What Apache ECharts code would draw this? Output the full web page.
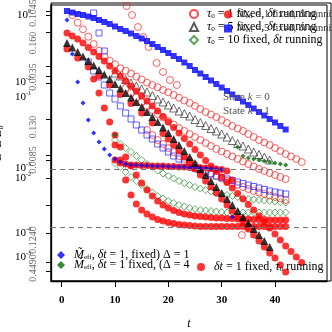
<!DOCTYPE html>
<html><head><meta charset="utf-8">
<script src="https://cdn.jsdelivr.net/npm/echarts@6/dist/echarts.min.js"></script>
<style>html,body{margin:0;padding:0;background:#fff}#c{width:332px;height:332px}</style>
</head><body><div id="c"></div>
<script>
// ---- data: [t, log10 E] ----
const xTicks = [0, 10, 20, 30, 40];
const yTickVals = [-0.067, -0.10, -0.277, -0.617, -0.71, -0.783, -1.14, -1.50, -1.55, -1.733, -2.007, -2.283, -2.57, -2.66];
const yPowerVals = [-0.07, -0.10, -0.77, -0.92, -1.63, -1.73, -2.28, -2.52];
const yPowerExp = ['-1', '0', '-2', '-1', '-3', '-2', '-4', '-3'];
const yRotVals = [-0.08, -0.38, -0.72, -1.22, -1.55, -2.35, -2.63];
const yRotTexts = ['0.1045', '0.160', '0.0035', '0.130', '0.0085', '0.1240', '0.4490'];

const stateK0 = [[1,-0.06],[2,-0.075],[3,-0.09],[4,-0.10],[5,-0.115],[6,-0.13],[7,-0.15],[8,-0.17],[9,-0.19],[10,-0.215],[11,-0.24],[12,-0.26],[13,-0.285],[14,-0.31],[15,-0.335],[16,-0.36],[17,-0.39],[18,-0.42],[19,-0.45],[20,-0.48],[21,-0.51],[22,-0.54],[23,-0.575],[24,-0.61],[25,-0.65],[26,-0.685],[27,-0.72],[28,-0.755],[29,-0.79],[30,-0.825],[31,-0.86],[32,-0.895],[33,-0.93],[34,-0.965],[35,-1.00],[36,-1.035],[37,-1.07],[38,-1.105],[39,-1.14],[40,-1.175],[41,-1.21],[42,-1.245]];
const stateK1 = [[1,-0.38],[2,-0.425],[3,-0.47],[4,-0.515],[5,-0.56],[6,-0.605],[7,-0.65],[8,-0.695],[9,-0.74],[10,-0.79],[11,-0.835],[12,-0.88],[13,-0.925],[14,-0.97],[15,-1.02],[16,-1.07],[17,-1.12],[18,-1.17],[19,-1.225],[20,-1.28],[21,-1.34],[22,-1.40],[23,-1.46],[24,-1.52],[25,-1.58],[26,-1.64],[27,-1.70],[28,-1.76],[29,-1.82],[30,-1.88],[31,-1.94],[32,-2.00],[33,-2.06],[34,-2.12],[35,-2.18],[36,-2.24],[37,-2.30],[38,-2.36],[39,-2.42]];
const tau5Open = [[10,-0.68],[11,-0.71],[12,-0.745],[13,-0.78],[14,-0.81],[15,-0.84],[16,-0.87],[17,-0.905],[18,-0.94],[19,-0.97],[20,-1.00],[21,-1.03],[22,-1.06],[23,-1.085],[24,-1.11],[25,-1.145],[26,-1.175],[27,-1.205],[28,-1.235],[29,-1.26],[30,-1.29],[31,-1.32],[32,-1.355],[33,-1.385],[34,-1.41],[35,-1.44],[36,-1.47],[37,-1.495],[38,-1.52],[39,-1.55]];
const blueOpenSteep = [[6,-0.08],[7,-0.28],[8,-0.46]];
const blueOpenRow = [[5,-0.57],[6,-0.66],[7,-0.72],[8,-0.80],[9,-0.88],[10,-0.94],[11,-1.01],[12,-1.08],[13,-1.14],[14,-1.20],[15,-1.25],[16,-1.30],[17,-1.34],[18,-1.39],[19,-1.43],[20,-1.47],[21,-1.51],[22,-1.54],[23,-1.57],[24,-1.60],[25,-1.63],[26,-1.65],[27,-1.67],[28,-1.69],[29,-1.71],[30,-1.725],[31,-1.74],[32,-1.755],[33,-1.77],[34,-1.785],[35,-1.80],[36,-1.815],[37,-1.83],[38,-1.845],[39,-1.86],[40,-1.87],[41,-1.88],[42,-1.89]];
const tau1Steep = [[12.2,-0.01],[13.2,-0.10],[14.3,-0.22],[15.3,-0.32],[16.3,-0.42],[17.8,-0.58],[19,-0.67],[20.3,-0.75],[21.6,-0.80]];
const tau1RowA = [[2,-0.10],[3,-0.177],[4,-0.243],[5,-0.317],[6,-0.39],[7,-0.457],[8,-0.517],[9,-0.557],[10,-0.593],[11,-0.633],[12,-0.657],[13,-0.685],[14,-0.717],[15,-0.745],[16,-0.777],[17,-0.80],[18,-0.823],[19,-0.85],[20,-0.873],[21,-0.90],[22,-0.927],[23,-0.955],[24,-0.98],[25,-1.01],[26,-1.04],[27,-1.07],[28,-1.095],[29,-1.12],[30,-1.15],[31,-1.18],[32,-1.21],[33,-1.235],[34,-1.26],[35,-1.29],[36,-1.32],[37,-1.35],[38,-1.375],[39,-1.40],[40,-1.43],[41,-1.46],[42,-1.49],[43,-1.515],[44,-1.54],[45,-1.57]];
const tau1RowB = [[12,-0.83],[13,-0.88],[14,-0.925],[15,-0.97],[16,-1.01],[17,-1.05],[18,-1.09],[19,-1.125],[20,-1.16],[21,-1.195],[22,-1.23],[23,-1.26],[24,-1.29],[25,-1.32],[26,-1.35],[27,-1.38],[28,-1.41],[29,-1.44],[30,-1.465],[31,-1.49],[32,-1.515],[33,-1.54],[34,-1.565],[35,-1.59],[36,-1.615],[37,-1.64],[38,-1.66],[39,-1.68],[40,-1.70],[41,-1.72],[42,-1.74]];
const tau1RowC = [[16,-1.25],[17,-1.30],[18,-1.35],[19,-1.39],[20,-1.43],[21,-1.47],[22,-1.51],[23,-1.54],[24,-1.57],[25,-1.60],[26,-1.63],[27,-1.66],[28,-1.685],[29,-1.71],[30,-1.735],[31,-1.76],[32,-1.78],[33,-1.80],[34,-1.82],[35,-1.84],[36,-1.86],[37,-1.875],[38,-1.89],[39,-1.905],[40,-1.92],[41,-1.935],[42,-1.95],[33.8,-2.30]];
const tau10RowA = [[10,-1.35],[11,-1.39],[12,-1.43],[13,-1.47],[14,-1.51],[15,-1.55],[16,-1.59],[17,-1.62],[18,-1.655],[19,-1.685],[20,-1.71],[21,-1.735],[22,-1.76],[23,-1.78],[24,-1.80],[25,-1.82],[26,-1.835],[27,-1.85],[28,-1.865],[29,-1.88],[30,-1.89],[31,-1.90],[32,-1.91],[33,-1.92],[34,-1.93],[35,-1.94],[36,-1.945],[37,-1.95],[38,-1.955],[39,-1.96],[40,-1.965],[41,-1.97],[42,-1.975]];
const tau10RowB = [[10,-1.58],[11,-1.62],[12,-1.67],[13,-1.72],[14,-1.76],[15,-1.80],[16,-1.84],[17,-1.875],[18,-1.91],[19,-1.935],[20,-1.96],[21,-1.98],[22,-2.00],[23,-2.015],[24,-2.03],[25,-2.04],[26,-2.05],[27,-2.055],[28,-2.06],[29,-2.065],[30,-2.07],[31,-2.075],[32,-2.075],[33,-2.075],[34,-2.075],[35,-2.075],[36,-2.075],[37,-2.075],[38,-2.075],[39,-2.075],[40,-2.075],[41,-2.075],[42,-2.075]];
const runDiag = [[1,-0.28],[2,-0.31],[3,-0.34],[4,-0.38],[5,-0.425],[6,-0.47],[7,-0.515],[8,-0.56],[9,-0.61],[10,-0.66],[11,-0.71],[12,-0.76],[13,-0.81],[14,-0.86],[15,-0.91],[16,-0.96],[17,-1.01],[18,-1.06],[19,-1.115],[20,-1.17],[21,-1.225],[22,-1.28],[23,-1.335],[24,-1.39],[25,-1.445],[26,-1.50],[27,-1.555],[28,-1.61],[29,-1.665],[30,-1.72],[31,-1.775],[32,-1.83],[33,-1.885],[34,-1.94],[35,-1.995],[36,-2.05],[37,-2.11],[38,-2.17],[39,-2.23],[40,-2.29],[41,-2.35],[42,-2.41],[43,-2.465],[44,-2.52],[45,-2.575]];
const runUnderK1 = [[1,-0.44],[3,-0.53],[5,-0.62],[7,-0.71],[9,-0.80],[11,-0.895],[13,-0.985],[15,-1.08],[17,-1.18],[19,-1.285],[20,-1.34],[21,-1.40],[22,-1.46],[23,-1.52],[24,-1.58],[25,-1.64],[26,-1.70],[27,-1.76],[28,-1.82],[29,-1.88],[30,-1.94],[31,-2.00],[32,-2.06],[33,-2.12],[34,-2.18],[35,-2.24],[36,-2.30],[37,-2.36],[38,-2.42],[39,-2.48],[40,-2.53],[41,-2.60],[42,-2.67]];
const runTau1 = [[6,-0.74],[7,-0.88],[8,-1.03],[9,-1.17],[10,-1.30],[11,-1.42],[12,-1.52],[13,-1.61],[14,-1.70],[15,-1.78],[16,-1.85],[17,-1.91],[18,-1.96],[19,-2.00],[20,-2.03],[21,-2.055],[22,-2.075],[23,-2.09],[24,-2.10],[25,-2.11],[26,-2.115],[27,-2.12],[28,-2.125],[29,-2.13],[30,-2.13],[31,-2.135],[32,-2.135],[33,-2.14],[34,-2.14],[35,-2.14],[36,-2.145],[37,-2.145],[38,-2.145],[39,-2.15],[40,-2.15],[41,-2.15],[42,-2.15]];
const runTau2 = [[10,-1.40],[11,-1.55],[12,-1.75],[13,-1.90],[14,-1.99],[15,-2.05],[16,-2.09],[17,-2.12],[18,-2.145],[19,-2.16],[20,-2.175],[21,-2.185],[22,-2.195],[23,-2.20],[24,-2.205],[25,-2.21],[26,-2.215],[27,-2.215],[28,-2.215],[29,-2.215],[30,-2.215],[31,-2.215],[32,-2.215],[33,-2.215],[34,-2.215],[35,-2.215],[36,-2.215],[37,-2.215],[38,-2.215],[39,-2.215],[40,-2.215],[41,-2.215],[42,-2.215]];
const runMeff = [[10,-1.55],[11,-1.58],[12,-1.59],[13,-1.60],[14,-1.60],[15,-1.605],[16,-1.605],[17,-1.61],[18,-1.61],[19,-1.61],[20,-1.615],[21,-1.615],[22,-1.62],[23,-1.62],[24,-1.625],[25,-1.625],[26,-1.63],[27,-1.63],[28,-1.635],[29,-1.64],[30,-1.645],[31,-1.66],[31.9,-1.75]];
const meffD1 = [[1,-0.15],[2,-0.49],[3,-0.77],[4,-0.98],[5,-1.15],[6,-1.28],[7,-1.37],[8,-1.44],[9,-1.50],[10,-1.54],[11,-1.57],[12,-1.59],[13,-1.60],[14,-1.60],[15,-1.605],[16,-1.605],[17,-1.61],[18,-1.61],[19,-1.61],[20,-1.615],[21,-1.615],[22,-1.62],[23,-1.62],[24,-1.625],[25,-1.625],[26,-1.63],[27,-1.63],[28,-1.635],[29,-1.64],[30,-1.645],[32,-2.12]];
const meffD4 = [[10,-1.30],[33,-1.42],[34,-1.51],[35,-1.53],[36,-1.54],[37,-1.55],[38,-1.56],[39,-1.57],[40,-1.58],[41,-1.59],[42,-1.60]];
const levelLines = [-1.64, -2.22];

// ---- names ----
const N_T1 = 'τ0 = 1 fixed, δt running';
const N_T5 = 'τ0 = 5 fixed, δt running';
const N_T10 = 'τ0 = 10 fixed, δt running';
const N_G0 = 'Meff = 1 fixed, δt running 0';
const N_G1 = 'Meff = 5 fixed, δt running 1';
const N_D1 = 'Meff, δt = 1, fixed) Δ = 1';
const N_D4 = 'Meff, δt = 1 fixed, Δ = 4';
const N_RUN = 'δt = 1 fixed, τ0 running';

const SERIF = 'Liberation Serif';
const FS = 12;
const GS = 10.5;
const rich = {
  i: {fontFamily: SERIF, fontStyle: 'italic', fontSize: FS, color: '#000'},
  n: {fontFamily: SERIF, fontSize: FS, color: '#000'},
  s: {fontFamily: SERIF, fontSize: 7, color: '#000', verticalAlign: 'bottom', padding: [4, 0, 0, 0]},
  p: {width: 4},
  g: {fontFamily: SERIF, fontStyle: 'italic', fontSize: GS, color: '#333'},
  gn: {fontFamily: SERIF, fontSize: GS, color: '#333'},
  gs: {fontFamily: SERIF, fontSize: 6.5, color: '#333', verticalAlign: 'bottom', padding: [4, 0, 0, 0]}
};
const legendFmt = {};
legendFmt[N_T1] = '{p|}{i|τ}{s|0}{n| = 1 fixed, }{i|δt}{n| running}';
legendFmt[N_T5] = '{p|}{i|τ}{s|0}{n| = 5 fixed, }{i|δt}{n| running}';
legendFmt[N_T10] = '{p|}{i|τ}{s|0}{n| = 10 fixed, }{i|δt}{n| running}';
legendFmt[N_G0] = '{g|M}{gs|eff}{gn| = 1 fixed, }{g|δt}{gn| running 0}';
legendFmt[N_G1] = '{g|M}{gs|eff}{gn| = 5 fixed, }{g|δt}{gn| running 1}';
legendFmt[N_D1] = '{p|}{i|M̃}{s|eff}{n|, }{i|δt}{n| = 1, fixed) Δ = 1}';
legendFmt[N_D4] = '{p|}{i|M̃}{s|eff}{n|, }{i|δt}{n| = 1 fixed, (Δ = 4}';
legendFmt[N_RUN] = '{p|}{i|δt}{n| = 1 fixed, }{i|τ}{s|0}{n| running}';

function openSym(sym, size, col, data, name, bw) {
  return {type: 'scatter', name, data, symbol: sym, symbolSize: size,
    itemStyle: {color: 'rgba(255,255,255,0)', borderColor: col, borderWidth: bw || 0.9}};
}
function fillSym(sym, size, col, data, name) {
  return {type: 'scatter', name, data, symbol: sym, symbolSize: size, itemStyle: {color: col}};
}

const series = [
  openSym('diamond', 7, '#2f8f2f', tau10RowA, N_T10),
  openSym('diamond', 7, '#2f8f2f', tau10RowB, N_T10),
  openSym('circle', 7, '#ff2020', tau1Steep, N_T1),
  openSym('circle', 7, '#ff2020', tau1RowA, N_T1),
  openSym('circle', 7, '#ff2020', tau1RowB, N_T1),
  openSym('circle', 7, '#ff2020', tau1RowC, N_T1),
  openSym('triangle', 8, '#333', tau5Open, N_T5),
  openSym('rect', 6, '#3a3aff', blueOpenSteep, 'blueopen', 1),
  openSym('rect', 6, '#3a3aff', blueOpenRow, 'blueopen', 1),
  fillSym('circle', 7, '#ff0000', runDiag, N_RUN),
  fillSym('circle', 7, '#ff0000', runUnderK1, N_RUN),
  fillSym('circle', 7, '#ff0000', runTau1, N_G0),
  fillSym('circle', 7, '#ff0000', runTau2, N_RUN),
  fillSym('circle', 7, '#ff0000', runMeff, N_RUN),
  fillSym('rect', 6, '#0000ff', stateK0, N_G1),
  fillSym('triangle', 8, '#000000', stateK1, 'k1'),
  fillSym('diamond', 5, '#0a6a0a', meffD4, N_D4),
  fillSym('diamond', 5, '#0000ff', meffD1, N_D1)
];
series[0].markLine = {silent: true, symbol: 'none', label: {show: false},
  lineStyle: {color: '#777', type: [5, 4], width: 1},
  data: levelLines.map(v => ({yAxis: v}))};

const legendBase = {orient: 'vertical', itemWidth: 8, itemHeight: 8, itemGap: 0,
  backgroundColor: 'transparent', selectedMode: false, padding: 0,
  textStyle: {rich, fontFamily: SERIF, fontSize: FS, color: '#000'},
  formatter: n => legendFmt[n] || n};

const option = {
  animation: false,
  backgroundColor: '#fff',
  grid: {left: 51, right: 5, top: 5, bottom: 51, show: true, borderColor: '#000', borderWidth: 1,
    containLabel: false, outerBoundsMode: 'none'},
  xAxis: {type: 'value', min: -2, max: 49.75,
    axisLine: {show: true, onZero: false, lineStyle: {color: '#000', width: 1.3}},
    axisTick: {show: true, customValues: xTicks, length: 6, lineStyle: {color: '#000'}},
    axisLabel: {customValues: xTicks, margin: 14, fontFamily: SERIF, fontWeight: 'bold', fontSize: 11, color: '#000'},
    splitLine: {show: false},
    name: 't', nameLocation: 'middle', nameGap: 37,
    nameTextStyle: {fontFamily: SERIF, fontStyle: 'italic', fontSize: 12, color: '#000'}},
  yAxis: [
    {type: 'value', min: -2.76, max: 0, position: 'left',
      axisLine: {show: true, onZero: false, lineStyle: {color: '#000', width: 1.3}},
      axisTick: {show: true, customValues: yTickVals, length: 5, lineStyle: {color: '#000'}},
      axisLabel: {customValues: yPowerVals, margin: 20, color: '#000',
        formatter: v => { const k = yPowerVals.indexOf(v); return '{b|10}{e|' + (k >= 0 ? yPowerExp[k] : '') + '}'; },
        rich: {b: {fontFamily: SERIF, fontSize: 11, color: '#000'}, e: {fontFamily: SERIF, fontSize: 6, color: '#000', verticalAlign: 'bottom', padding: [0, 0, 7, 0]}}},
      splitLine: {show: false},
      name: 'E  E E₀', nameLocation: 'middle', nameGap: 30, nameRotate: 90,
      nameTextStyle: {fontFamily: SERIF, fontStyle: 'italic', fontSize: 12, color: '#000'}},
    {type: 'value', min: -2.76, max: 0, position: 'left',
      axisLine: {show: false}, axisTick: {show: false}, splitLine: {show: false},
      axisLabel: {customValues: yRotVals, rotate: 90, margin: 13, color: '#666', fontFamily: SERIF, fontSize: 10,
        formatter: v => { const k = yRotVals.indexOf(v); return k >= 0 ? yRotTexts[k] : ''; }}}
  ],
  legend: [
    Object.assign({}, legendBase, {left: 189, top: 8, data: [N_T1, N_T5, N_T10], itemGap: 1}),
    Object.assign({}, legendBase, {left: 224, top: 9, data: [N_G0, N_G1], itemGap: 3}),
    Object.assign({}, legendBase, {left: 57, top: 249, data: [N_D1, N_D4], itemGap: -2}),
    Object.assign({}, legendBase, {left: 197, top: 261, data: [N_RUN]})
  ],
  graphic: [
    {type: 'rect', silent: true, shape: {x: 51, y: 3, width: 280, height: 278},
      style: {fill: 'none', stroke: '#000', lineWidth: 1}},
    {type: 'text', left: 223, top: 92, silent: true, z: 100,
      style: {text: '{n|State }{i|k}{n| = 0}', rich: {n: {fontFamily: SERIF, fontSize: 11, fill: '#555'}, i: {fontFamily: SERIF, fontStyle: 'italic', fontSize: 11, fill: '#555'}}}},
    {type: 'text', left: 223, top: 106, silent: true, z: 100,
      style: {text: '{n|State }{i|k}{n| = 1}', rich: {n: {fontFamily: SERIF, fontSize: 11, fill: '#555'}, i: {fontFamily: SERIF, fontStyle: 'italic', fontSize: 11, fill: '#555'}}}}
  ],
  series
};
const chart = echarts.init(document.getElementById('c'), null, {renderer: 'canvas'});
chart.setOption(option);
</script>
</body></html>
